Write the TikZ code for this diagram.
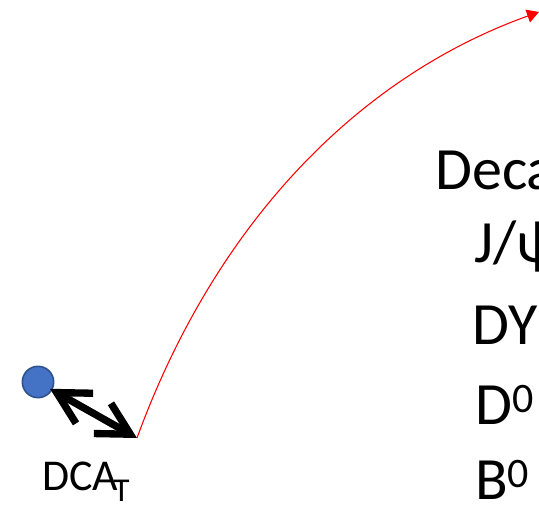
\documentclass[tikz,border=0pt]{standalone}
\usepackage{fontspec}
\setmainfont{Carlito}
\usepackage{tikz}
\usetikzlibrary{arrows.meta, positioning, calc}
\definecolor{cVertex}{RGB}{68,114,196}
\definecolor{cVertexDark}{RGB}{47,82,143}
\definecolor{cTrack}{RGB}{255,0,0}
\tikzset{
    vertex/.style   ={circle, draw=cVertexDark, fill=cVertex, line width=1.2pt, minimum size=23.5pt, inner sep=0pt},
    dcaarrow/.style ={{Straight Barb[length=24pt, width=26pt]}-{Straight Barb[length=24pt, width=26pt]}, line width=5.5pt, line cap=round, line join=round},
    trackline/.style={cTrack, line width=0.8pt, -{Triangle[length=9pt, width=10pt]}},
    bigtext/.style  ={anchor=base west, inner sep=0pt, font=\fontsize{45}{50}\selectfont},
    dcatext/.style  ={anchor=base west, inner sep=0pt, font=\fontsize{33}{38}\selectfont},
}

\begin{document}
\begin{tikzpicture}[x=0.75pt, y=-0.75pt]
        \useasboundingbox (0,0) rectangle (539,505);
        \clip (0,0) rectangle (539,505);
        % primary vertex and track origin
        \node[vertex] (vtx) at (38,382) {};
        \coordinate (trk) at (137,438);
        \coordinate (trkend) at (539,12);

        % DCA label
        \node[dcatext] (dca) at (42,491) {DCA};
        \node[anchor=base west, inner sep=0pt, font=\fontsize{25}{28}\selectfont] (dcasub) at ([xshift=-4pt]dca.base east) {\raisebox{-8pt}{T}};

        % decay list
        \node[bigtext] (decay) at (435,190) {Decay};
        \node[bigtext] (jpsi) at (474,263) {J/ψ};
        \node[bigtext] (dy) at (472,345) {DY};
        \node[bigtext] (dzero) at (475,425) {D\textsuperscript{0}};
        \node[bigtext] (bzero) at (475,500) {B\textsuperscript{0}};

        % arrows
        \draw[dcaarrow, shorten <=-2pt] (vtx) -- (trk);
        \draw[trackline] (trk) .. controls (214,227) and (355,78) .. (trkend);
    \end{tikzpicture}
\end{document}
